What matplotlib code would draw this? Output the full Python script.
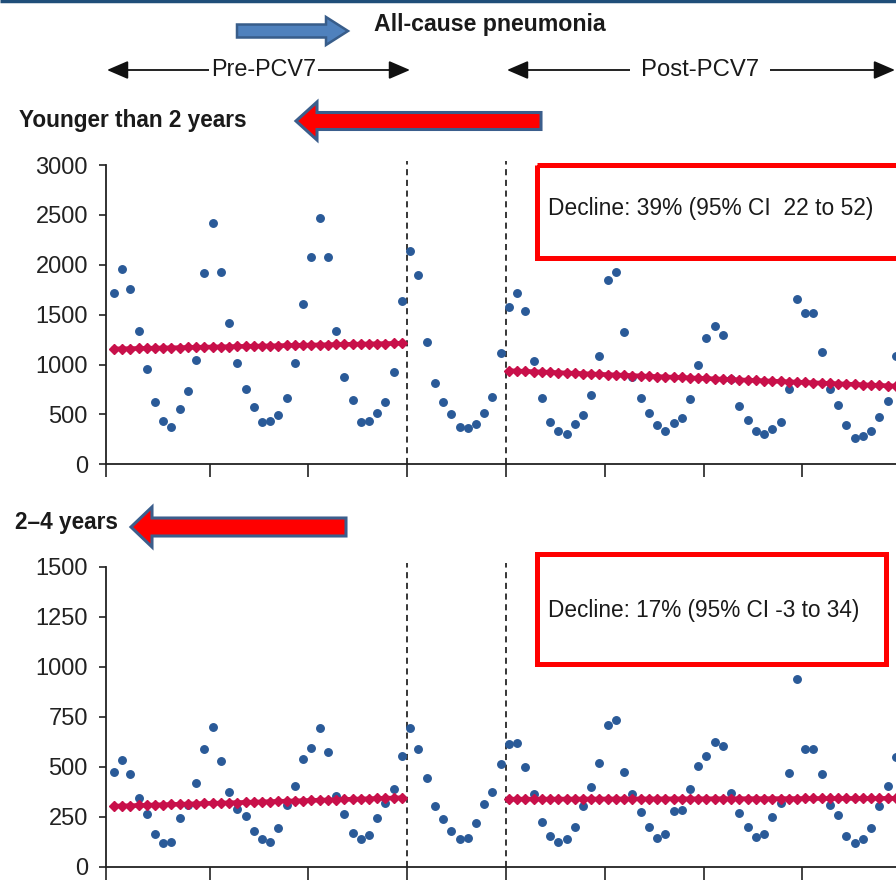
import numpy as np
import matplotlib
matplotlib.use('Agg')
import matplotlib.pyplot as plt
from matplotlib import font_manager
from matplotlib.patches import FancyArrow, Rectangle

# ---------------- data ----------------
months = np.arange(96)  # monthly observations, 8 years

under2 = [1715, 1959, 1759, 1337, 956, 625, 431, 378, 555, 739, 1050, 1922,
          2414, 1926, 1414, 1013, 755, 571, 428, 430, 495, 662, 1020, 1611,
          2080, 2468, 2080, 1337, 879, 645, 428, 435, 511, 622, 923, 1632,
          2140, 1902, 1227, 812, 620, 505, 371, 368, 404, 511, 675, 1120,
          1581, 1712, 1538, 1040, 662, 421, 334, 304, 404, 495, 695, 1086,
          1852, 1926, 1331, 880, 662, 518, 394, 338, 411, 462, 652, 999,
          1264, 1391, 1294, 850, 585, 445, 334, 304, 351, 428, 755, 1659,
          1518, 1518, 1123, 752, 591, 397, 267, 284, 338, 478, 638, 1086]

age2to4 = [472, 535, 462, 345, 263, 163, 120, 125, 242, 310, 417, 587,
           697, 528, 375, 287, 255, 180, 137, 122, 192, 308, 403, 537,
           593, 695, 575, 355, 262, 170, 137, 158, 242, 320, 387, 553,
           692, 588, 442, 303, 237, 180, 138, 142, 217, 312, 372, 513,
           612, 620, 500, 363, 222, 153, 125, 137, 200, 303, 397, 520,
           708, 733, 475, 363, 275, 197, 142, 162, 278, 283, 387, 505,
           555, 622, 603, 370, 270, 197, 147, 162, 247, 317, 470, 938,
           587, 590, 463, 308, 258, 153, 117, 137, 192, 305, 403, 547]

pre_months = [0, 35]      # pre-PCV7 period (first, last month)
post_months = [48, 95]    # post-PCV7 period
vaccine_lines = [36, 48]  # introduction year boundaries

under2_pre_trend = [1157, 1214]
under2_post_trend = [939, 785]
age2to4_pre_trend = [303, 345]
age2to4_post_trend = [338, 342]

title = "All-cause pneumonia"
panel_titles = ["Younger than 2 years", "2\u20134 years"]
decline_texts = ["Decline: 39% (95% CI  22 to 52)", "Decline: 17% (95% CI -3 to 34)"]
period_labels = ["Pre-PCV7", "Post-PCV7"]

# ---------------- style ----------------
names = {f.name for f in font_manager.fontManager.ttflist}
TXT = 'Liberation Sans Narrow' if 'Liberation Sans Narrow' in names else 'Liberation Sans'
TICKFONT = 'Liberation Sans'
DOT = '#2a5a98'
TREND = '#c8104a'

W, H = 896, 880
fig = plt.figure(figsize=(W / 100, H / 100), dpi=100)
renderer = fig.canvas.get_renderer()


def axrect(left, top_px, bottom_px, right=W):
    return [left / W, 1 - bottom_px / H, (right - left) / W, (bottom_px - top_px) / H]


XMIN, XMAX = -0.6, 95.38
OFF = 0.35  # points sit slightly right of month boundary


def draw_panel(ax, values, pre_tr, post_tr, ymax, step):
    x = months + OFF
    ax.plot(x, values, 'o', color=DOT, ms=5.4, mec=DOT, zorder=2, clip_on=False)
    for (m0, m1), tr in ((pre_months, pre_tr), (post_months, post_tr)):
        mm = np.arange(m0, m1 + 1) + OFF
        ax.plot(mm, np.linspace(tr[0], tr[1], len(mm)), color=TREND, lw=3.2,
                marker='D', ms=5.0, mec=TREND, zorder=3)
    for v in vaccine_lines:
        ax.plot([v, v], [0, ymax * 1.012], color='k', lw=1.1, ls=(0, (4, 3)),
                clip_on=False, zorder=1)
    ax.set_xlim(XMIN, XMAX)
    ax.set_ylim(0, ymax)
    ax.set_xticks([XMIN] + list(range(12, 96, 12)))
    ax.set_xticklabels([])
    ax.set_yticks(np.arange(0, ymax + 1, step))
    for s in ('top', 'right'):
        ax.spines[s].set_visible(False)
    for s in ('left', 'bottom'):
        ax.spines[s].set_linewidth(1.3)
        ax.spines[s].set_color('#222222')
    ax.tick_params(axis='x', direction='out', length=9.5, width=1.2, color='#222222')
    ax.tick_params(axis='y', direction='out', length=5, width=1.2, pad=8,
                   labelsize=17, color='#222222', labelcolor='#222222')
    for lab in ax.get_yticklabels():
        lab.set_fontfamily(TICKFONT)
    ax.patch.set_visible(False)


ax1 = fig.add_axes(axrect(106, 165, 464.3))
draw_panel(ax1, under2, under2_pre_trend, under2_post_trend, 3000, 500)
ax2 = fig.add_axes(axrect(106, 566.7, 866.7))
draw_panel(ax2, age2to4, age2to4_pre_trend, age2to4_post_trend, 1500, 250)

# ---------------- overlay in pixel coords ----------------
ov = fig.add_axes([0, 0, 1, 1], zorder=10)
ov.set_xlim(0, W)
ov.set_ylim(H, 0)
ov.axis('off')
ov.patch.set_visible(False)


def fit_text(x_left, y_c, s, width, **kw):
    t = ov.text(x_left, y_c, s, ha='left', va='center', fontsize=20,
                fontfamily=TXT, color='#1a1a1a', **kw)
    bb = t.get_window_extent(renderer)
    t.set_fontsize(20 * width / bb.width)
    return t


# top border line
ov.plot([0, W], [1, 1], color='#1f4e79', lw=2.5, solid_capstyle='butt')

# title and blue arrow
fit_text(374, 25, title, 232, fontweight='bold')
ov.add_patch(FancyArrow(237, 31, 111, 0, width=13, head_width=28, head_length=22,
                        length_includes_head=True, fc='#4f81bd', ec='#385d8a', lw=1.8))

# period arrows
arrow_kw = dict(arrowstyle='<|-|>,head_length=0.65,head_width=0.28', color='#111111',
                lw=1.3, shrinkA=0, shrinkB=0, mutation_scale=20)
ov.annotate('', xy=(107, 70), xytext=(410, 70), arrowprops=arrow_kw)
ov.annotate('', xy=(507, 70), xytext=(895, 70), arrowprops=arrow_kw)
fit_text(211, 70, period_labels[0], 105,
         bbox=dict(facecolor='white', edgecolor='none', pad=1.5))
fit_text(641, 70, period_labels[1], 118,
         bbox=dict(facecolor='white', edgecolor='none', pad=9))

# panel titles and red arrows
fit_text(19, 121, panel_titles[0], 228, fontweight='bold')
ov.add_patch(FancyArrow(541, 121, -245, 0, width=17, head_width=38, head_length=21,
                        length_includes_head=True, fc='#ff0000', ec='#3b5e8c', lw=2.2))
fit_text(15, 523, panel_titles[1], 103, fontweight='bold')
ov.add_patch(FancyArrow(346, 527, -215, 0, width=18, head_width=40, head_length=21,
                        length_includes_head=True, fc='#ff0000', ec='#3b5e8c', lw=2.2))

# decline boxes
ov.add_patch(Rectangle((537, 165), 361, 93, fill=False, ec='#ff0000', lw=3.6))
fit_text(548, 209, decline_texts[0], 325)
ov.add_patch(Rectangle((537, 554), 349, 110, fill=False, ec='#ff0000', lw=3.6))
fit_text(548, 610, decline_texts[1], 313)

fig.savefig('out.png', dpi=100)
